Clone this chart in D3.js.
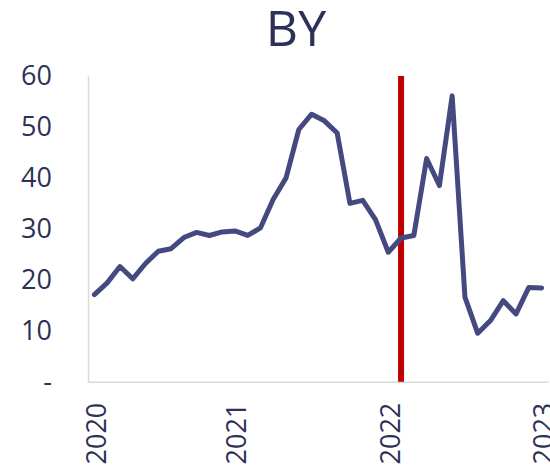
<!DOCTYPE html>
<html>
<head>
<meta charset="utf-8">
<script src="https://cdn.jsdelivr.net/npm/d3@7"></script>
<style>
  html, body { margin: 0; padding: 0; background: #fff; }
  svg { display: block; }
</style>
</head>
<body>
<svg id="chart" width="550" height="466"></svg>
<script>
const title = "BY";
const months = [
  "2020-01","2020-02","2020-03","2020-04","2020-05","2020-06","2020-07","2020-08","2020-09","2020-10","2020-11","2020-12",
  "2021-01","2021-02","2021-03","2021-04","2021-05","2021-06","2021-07","2021-08","2021-09","2021-10","2021-11","2021-12",
  "2022-01","2022-02","2022-03","2022-04","2022-05","2022-06","2022-07","2022-08","2022-09","2022-10","2022-11","2022-12"
];
const values = [
  17.1, 19.4, 22.6, 20.2, 23.2, 25.6, 26.1, 28.3, 29.3, 28.7, 29.4, 29.6,
  28.7, 30.2, 35.8, 40.0, 49.5, 52.5, 51.2, 48.8, 35.0, 35.6, 31.8, 25.4,
  28.2, 28.7, 43.8, 38.5, 56.1, 16.6, 9.5, 12.0, 15.9, 13.3, 18.5, 18.4
];
const yTicks = [0, 10, 20, 30, 40, 50, 60];
const xTickMonths = ["2020-01", "2020-12", "2021-12", "2022-12"];
const xTickLabels = ["2020", "2021", "2022", "2023"];
const markerMonth = "2022-01";

const svg = d3.select("#chart");
const textColor = "#2E3157";
const lineColor = "#444A80";
const axisColor = "#D9D9D9";
const font = "'Open Sans', 'Noto Sans', sans-serif";

const mLeft = 88, mRight = 548, mTop = 76, mBottom = 381.7;

const x = d3.scalePoint().domain(months).range([mLeft, mRight]).padding(0.5);
const y = d3.scaleLinear().domain([0, 60]).range([mBottom, mTop]);

// Title
svg.append("text")
  .attr("x", 296).attr("y", 46)
  .attr("text-anchor", "middle")
  .attr("font-family", font).attr("font-size", 50)
  .attr("fill", textColor)
  .text(title);

// Y axis
const yAxis = d3.axisLeft(y).tickValues(yTicks)
  .tickSize(0).tickPadding(36)
  .tickFormat(d => d === 0 ? "-" : d3.format("d")(d));
const gy = svg.append("g").attr("transform", `translate(${mLeft},0)`).call(yAxis);
gy.select(".domain").attr("stroke", axisColor).attr("stroke-width", 1.5);
gy.selectAll("text")
  .attr("font-family", font).attr("font-size", 27)
  .attr("fill", textColor);

// X axis
const xAxis = d3.axisBottom(x).tickValues(xTickMonths)
  .tickSize(0)
  .tickFormat(d => xTickLabels[xTickMonths.indexOf(d)]);
const gx = svg.append("g").attr("transform", `translate(0,${mBottom})`).call(xAxis);
gx.select(".domain").attr("stroke", axisColor).attr("stroke-width", 1.5);
gx.selectAll("text")
  .attr("font-family", font).attr("font-size", 27)
  .attr("fill", textColor)
  .attr("text-anchor", "end")
  .attr("transform", "rotate(-90)")
  .attr("x", -21).attr("y", 1.5)
  .attr("dy", "0.35em");

// Marker line
svg.append("line")
  .attr("x1", x(markerMonth)).attr("x2", x(markerMonth))
  .attr("y1", y(60)).attr("y2", y(0))
  .attr("stroke", "#C00000").attr("stroke-width", 6);

// Series line
const line = d3.line()
  .x((d, i) => x(months[i]))
  .y(d => y(d));
svg.append("path")
  .datum(values)
  .attr("d", line)
  .attr("fill", "none")
  .attr("stroke", lineColor)
  .attr("stroke-width", 5)
  .attr("stroke-linejoin", "round")
  .attr("stroke-linecap", "round");
</script>
</body>
</html>
